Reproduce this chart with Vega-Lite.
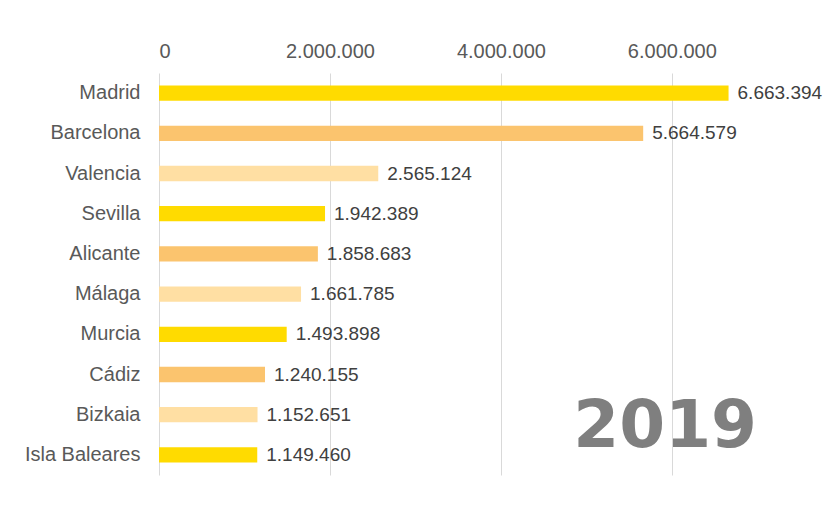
{
  "$schema": "https://vega.github.io/schema/vega-lite/v6.json",
  "width": 665,
  "height": 402,
  "autosize": {"type": "none"},
  "padding": {"left": 159, "top": 73, "right": 0, "bottom": 35},
  "background": "white",
  "title": {
    "text": "2019",
    "orient": "bottom",
    "anchor": "end",
    "offset": -80,
    "dx": -67,
    "font": "DejaVu Sans",
    "fontSize": 66,
    "fontWeight": "bold",
    "color": "#7F7F7F"
  },
  "config": {
    "view": {"stroke": null},
    "locale": {"number": {"decimal": ",", "thousands": ".", "grouping": [3], "currency": ["", " €"]}},
    "font": "Liberation Sans"
  },
  "data": {
    "values": [
      {"provincia": "Madrid", "valor": 6663394, "serie": "a"},
      {"provincia": "Barcelona", "valor": 5664579, "serie": "b"},
      {"provincia": "Valencia", "valor": 2565124, "serie": "c"},
      {"provincia": "Sevilla", "valor": 1942389, "serie": "a"},
      {"provincia": "Alicante", "valor": 1858683, "serie": "b"},
      {"provincia": "Málaga", "valor": 1661785, "serie": "c"},
      {"provincia": "Murcia", "valor": 1493898, "serie": "a"},
      {"provincia": "Cádiz", "valor": 1240155, "serie": "b"},
      {"provincia": "Bizkaia", "valor": 1152651, "serie": "c"},
      {"provincia": "Isla Baleares", "valor": 1149460, "serie": "a"}
    ]
  },
  "encoding": {
    "y": {
      "field": "provincia",
      "type": "nominal",
      "sort": null,
      "scale": {"paddingInner": 0.62, "paddingOuter": 0.31},
      "axis": {
        "title": null,
        "domain": false,
        "ticks": false,
        "labelFontSize": 20,
        "labelColor": "#595959",
        "labelPadding": 19
      }
    },
    "x": {
      "field": "valor",
      "type": "quantitative",
      "scale": {"domain": [0, 7780000], "nice": false},
      "axis": {
        "orient": "top",
        "title": null,
        "domain": false,
        "ticks": false,
        "values": [0, 2000000, 4000000, 6000000],
        "format": ",d",
        "labelFontSize": 20,
        "labelColor": "#595959",
        "labelPadding": 12,
        "grid": true,
        "gridColor": "#d9d9d9",
        "gridWidth": 1
      }
    }
  },
  "layer": [
    {
      "mark": {"type": "bar"},
      "encoding": {
        "color": {
          "field": "serie",
          "type": "nominal",
          "scale": {"domain": ["a", "b", "c"], "range": ["#FFDB00", "#FBC46E", "#FFDFA3"]},
          "legend": null
        }
      }
    },
    {
      "mark": {"type": "text", "align": "left", "baseline": "middle", "dx": 9, "fontSize": 19, "color": "#404040"},
      "encoding": {
        "text": {"field": "valor", "type": "quantitative", "format": ",d"}
      }
    }
  ]
}
